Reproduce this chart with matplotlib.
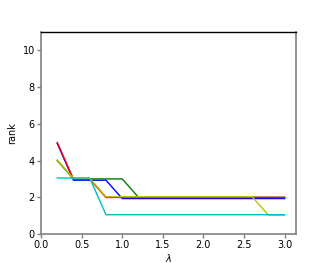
import matplotlib
matplotlib.use("Agg")
import matplotlib.pyplot as plt

lam = [0.2, 0.4, 0.6, 0.8, 1.0, 1.2, 1.4, 1.6, 1.8, 2.0, 2.2, 2.4, 2.6, 2.8, 3.0]
rank_red    = [5, 3, 3, 2, 2, 2, 2, 2, 2, 2, 2, 2, 2, 2, 2]
rank_green  = [4, 3, 3, 3, 3, 2, 2, 2, 2, 2, 2, 2, 2, 2, 2]
rank_yellow = [4, 3, 3, 2, 2, 2, 2, 2, 2, 2, 2, 2, 2, 1, 1]
rank_blue   = [5, 3, 3, 3, 2, 2, 2, 2, 2, 2, 2, 2, 2, 2, 2]
rank_cyan   = [3, 3, 3, 1, 1, 1, 1, 1, 1, 1, 1, 1, 1, 1, 1]

# drawing order and small vertical display offsets
series = [(rank_blue, 'b', -0.07), (rank_green, 'g', 0.0), (rank_red, 'r', -0.01),
          (rank_yellow, 'y', 0.03), (rank_cyan, 'c', 0.05)]

fig = plt.figure(figsize=(3.29, 2.63), dpi=100)
ax = fig.add_axes([0.1246, 0.1103, 0.7751, 0.768])
for vals, col, off in series:
    ax.plot(lam, [v + off for v in vals], color=col, linewidth=1.0)

ax.set_xlim(0, 3.14)
ax.set_ylim(0, 11)
ax.set_xticks([0.0, 0.5, 1.0, 1.5, 2.0, 2.5, 3.0])
ax.set_yticks([0, 2, 4, 6, 8, 10])
ax.tick_params(labelsize=7, colors='black', length=3, width=1, pad=1.5)
ax.tick_params(axis='both', color='#808080')
for s in ['left', 'bottom', 'right']:
    ax.spines[s].set_color('#808080')
    ax.spines[s].set_linewidth(1.2)
ax.spines['top'].set_color('black')
ax.spines['top'].set_linewidth(1.0)
ax.set_xlabel(r'$\lambda$', fontsize=7, labelpad=1)
ax.set_ylabel('rank', fontsize=7, labelpad=4)
fig.savefig('out.png', dpi=100)
